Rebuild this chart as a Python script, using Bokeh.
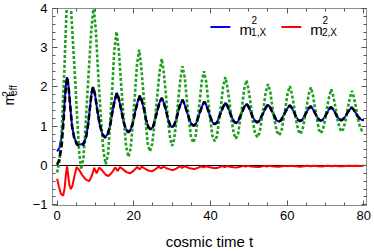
from bokeh.plotting import figure
from bokeh.layouts import row
from bokeh.models import Range1d, LinearAxis, FixedTicker, Span, Label, Arrow
from bokeh.embed import file_html
from bokeh.resources import INLINE
import math

# ---- data ----
blue_t = [0, 0.6, 1.2, 1.7, 2.2, 2.6, 3.0, 3.4, 3.9, 4.5, 5.2, 6.0, 6.8, 7.5, 8.1, 8.6, 9.0, 9.4,
          9.9, 10.5, 11.1, 11.8, 12.5, 13.2, 13.8, 14.4, 15.0, 15.6,
          16.1, 16.7, 17.3, 17.9, 18.6, 19.2, 19.8, 20.4, 21.0, 21.6,
          22.1, 22.7, 23.2, 23.8, 24.4, 25.0, 25.5, 26.1, 26.7, 27.3,
          27.8, 28.4, 28.9, 29.5, 30.0, 30.5, 31.1, 31.6, 32.2, 32.7,
          33.2, 33.8, 34.4, 35.0, 35.6, 36.2, 36.7, 37.3, 37.9, 38.4,
          38.9, 39.5, 40.0, 40.6, 41.1, 41.7, 42.2, 42.8, 43.4, 43.9,
          44.4, 45.0, 45.5, 46.1, 46.6, 47.2, 47.7, 48.3, 48.8, 49.4,
          49.9, 50.5, 51.0, 51.6, 52.2, 52.8, 53.3, 53.9, 54.4, 55.0,
          55.5, 56.1, 56.7, 57.2, 57.8, 58.4, 58.9, 59.5, 60.1, 60.7,
          61.2, 61.8, 62.3, 62.9, 63.4, 63.9, 64.5, 65.0, 65.6, 66.1,
          66.6, 67.2, 67.7, 68.3, 68.8, 69.3, 69.9, 70.4, 70.9, 71.4,
          71.9, 72.5, 73.0, 73.6, 74.1, 74.6, 75.2, 75.7, 76.3, 76.8,
          77.3, 77.9, 78.4, 79.0, 79.5, 80.0]
blue_y = [0.36, 0.45, 0.74, 1.25, 1.95, 2.25, 2.0, 1.54, 1.0, 0.7, 0.56, 0.53, 0.56, 0.7, 1.05, 1.5, 1.85, 2.0,
          1.8, 1.4, 1.05, 0.8, 0.72, 0.8, 1.0, 1.35, 1.65, 1.85,
          1.7, 1.43, 1.13, 0.93, 0.85, 0.92, 1.1, 1.38, 1.62, 1.78,
          1.65, 1.42, 1.17, 0.98, 0.92, 0.98, 1.15, 1.38, 1.6, 1.72,
          1.61, 1.41, 1.19, 1.02, 0.97, 1.02, 1.18, 1.39, 1.57, 1.67,
          1.57, 1.39, 1.2, 1.06, 1.01, 1.06, 1.2, 1.37, 1.53, 1.63,
          1.54, 1.38, 1.22, 1.09, 1.05, 1.09, 1.22, 1.37, 1.51, 1.60,
          1.52, 1.38, 1.24, 1.12, 1.08, 1.12, 1.24, 1.37, 1.49, 1.57,
          1.5, 1.37, 1.24, 1.14, 1.10, 1.14, 1.25, 1.36, 1.47, 1.55,
          1.49, 1.37, 1.25, 1.15, 1.12, 1.15, 1.25, 1.36, 1.46, 1.53,
          1.47, 1.36, 1.25, 1.16, 1.13, 1.16, 1.25, 1.35, 1.45, 1.51,
          1.45, 1.35, 1.25, 1.17, 1.14, 1.17, 1.25, 1.34, 1.43, 1.49,
          1.44, 1.35, 1.25, 1.18, 1.15, 1.18, 1.25, 1.34, 1.42, 1.48,
          1.43, 1.34, 1.25, 1.19, 1.16, 1.16]

black_t = blue_t
black_y = [0.02, 0.15, 0.53, 1.15, 1.9, 2.25, 2.0, 1.54, 1.0, 0.68, 0.53, 0.51, 0.53, 0.68, 1.05, 1.5, 1.85, 2.0,
           1.8, 1.4, 1.05, 0.8, 0.71, 0.8, 1.0, 1.35, 1.65, 1.85,
           1.7, 1.43, 1.13, 0.93, 0.84, 0.92, 1.1, 1.38, 1.62, 1.78,
           1.65, 1.42, 1.17, 0.98, 0.92, 0.98, 1.15, 1.38, 1.6, 1.72,
           1.61, 1.41, 1.19, 1.02, 0.97, 1.02, 1.18, 1.39, 1.57, 1.67,
           1.57, 1.39, 1.2, 1.06, 1.01, 1.06, 1.2, 1.37, 1.53, 1.63,
           1.54, 1.38, 1.22, 1.09, 1.05, 1.09, 1.22, 1.37, 1.51, 1.60,
           1.52, 1.38, 1.24, 1.12, 1.08, 1.12, 1.24, 1.37, 1.49, 1.57,
           1.5, 1.37, 1.24, 1.14, 1.10, 1.14, 1.25, 1.36, 1.47, 1.55,
           1.49, 1.37, 1.25, 1.15, 1.12, 1.15, 1.25, 1.36, 1.46, 1.53,
           1.47, 1.36, 1.25, 1.16, 1.13, 1.16, 1.25, 1.35, 1.45, 1.51,
           1.45, 1.35, 1.25, 1.17, 1.14, 1.17, 1.25, 1.34, 1.43, 1.49,
           1.44, 1.35, 1.25, 1.18, 1.15, 1.18, 1.25, 1.34, 1.42, 1.48,
           1.43, 1.34, 1.25, 1.19, 1.16, 1.16]

green_t = [0, 0.6, 1.2, 1.8, 2.4, 2.9, 3.5, 4.1, 4.7, 5.3, 5.8, 6.3, 6.9, 7.5, 8.2, 8.9, 9.5,
           10.1, 10.7, 11.4, 12.1, 12.7, 13.3, 13.8, 14.4, 14.9, 15.5,
           16.1, 16.7, 17.4, 18.0, 18.6, 19.2, 19.7, 20.3, 20.8, 21.4,
           21.9, 22.5, 23.1, 23.6, 24.2, 24.8, 25.4, 26.1, 26.7, 27.3,
           27.8, 28.4, 28.9, 29.5, 30.0, 30.5, 31.1, 31.6, 32.2, 32.7,
           33.3, 33.8, 34.4, 34.9, 35.5, 36.1, 36.6, 37.2, 37.7, 38.3,
           38.9, 39.4, 40.0, 40.5, 41.1, 41.7, 42.2, 42.8, 43.3, 43.9,
           44.4, 45.0, 45.5, 46.1, 46.6, 47.2, 47.7, 48.3, 48.8, 49.4,
           49.9, 50.5, 51.0, 51.6, 52.2, 52.8, 53.3, 53.9, 54.4, 55.0,
           55.6, 56.1, 56.7, 57.3, 57.9, 58.5, 59.0, 59.6, 60.1, 60.7,
           61.2, 61.8, 62.3, 62.9, 63.4, 64.0, 64.5, 65.1, 65.6, 66.2,
           66.7, 67.2, 67.8, 68.3, 68.8, 69.3, 69.9, 70.4, 71.0, 71.5,
           72.0, 72.6, 73.1, 73.7, 74.2, 74.7, 75.3, 75.8, 76.4, 76.9,
           77.4, 78.0, 78.5, 79.1, 79.6, 80.0]
green_y = [-0.18, 0.1, 0.9, 2.2, 3.8, 4.8, 4.2, 3.2, 2.2, 1.1, 0.3, -0.1, 0.23, 1.15, 2.31, 3.43, 4.05,
           3.45, 2.36, 1.24, 0.35, 0.03, 0.3, 1.04, 1.99, 2.9, 3.41,
           2.93, 2.07, 1.18, 0.48, 0.22, 0.44, 1.04, 1.8, 2.54, 2.95,
           2.56, 1.86, 1.14, 0.57, 0.36, 0.55, 1.07, 1.73, 2.37, 2.72,
           2.39, 1.79, 1.17, 0.68, 0.5, 0.66, 1.11, 1.68, 2.23, 2.53,
           2.24, 1.71, 1.17, 0.74, 0.58, 0.73, 1.13, 1.64, 2.13, 2.40,
           2.13, 1.65, 1.15, 0.76, 0.62, 0.75, 1.11, 1.57, 2.01, 2.25,
           2.01, 1.59, 1.15, 0.81, 0.68, 0.80, 1.13, 1.54, 1.95, 2.17,
           1.95, 1.56, 1.15, 0.84, 0.72, 0.83, 1.13, 1.50, 1.87, 2.07,
           1.88, 1.52, 1.16, 0.87, 0.77, 0.87, 1.15, 1.50, 1.83, 2.02,
           1.84, 1.51, 1.17, 0.9, 0.8, 0.9, 1.16, 1.49, 1.81, 1.99,
           1.81, 1.5, 1.17, 0.91, 0.82, 0.91, 1.16, 1.47, 1.77, 1.94,
           1.78, 1.49, 1.18, 0.95, 0.86, 0.94, 1.17, 1.46, 1.74, 1.90,
           1.74, 1.46, 1.17, 0.95, 0.88, 0.89]

red_t = [0, 0.5, 1.0, 1.6, 2.0, 2.3, 2.6, 2.9, 3.2, 3.6, 4.0, 4.5, 5.1, 5.8, 6.6, 7.5, 8.4, 9.1, 9.7, 10.3,
         11.0, 11.8, 12.6, 13.4, 14.3, 15.2, 15.8, 16.4, 17.2, 18.1, 19.0, 20.0, 20.9, 21.5, 22.1, 22.9,
         23.8, 24.7, 25.6, 26.5, 27.1, 27.7, 28.5, 29.4, 30.2, 31.1, 32.0, 32.6, 33.2, 34.0, 34.9, 35.8,
         36.7, 37.6, 38.2, 38.8, 39.6, 40.5, 41.3, 42.2, 43.1, 43.7, 44.3, 45.1, 46.0, 46.8, 47.7, 48.6,
         49.2, 49.8, 50.6, 51.5, 52.3, 53.2, 54.1, 54.7, 55.3, 56.5, 57.9, 59.6, 60.2, 60.8, 62.2, 63.5,
         65.2, 66.2, 67.0, 68.0, 69.0, 70.6, 71.6, 72.4, 73.4, 74.5, 76.1, 77.0, 77.8, 78.9, 80.0]
red_y = [-0.34, -0.55, -0.72, -0.77, -0.55, -0.22, -0.02, -0.25, -0.5, -0.6, -0.52, -0.28, -0.04, -0.12,
         -0.25, -0.36, -0.40, -0.25, -0.06, -0.2, -0.05, -0.13, -0.23, -0.27, -0.18, -0.05, -0.14, -0.04,
         -0.1, -0.17, -0.2, -0.13, -0.04, -0.1, -0.03, -0.08, -0.13, -0.15, -0.1, -0.03, -0.08, -0.03,
         -0.07, -0.1, -0.12, -0.08, -0.02, -0.06, -0.02, -0.05, -0.08, -0.09, -0.06, -0.02, -0.05, -0.02,
         -0.04, -0.06, -0.07, -0.05, -0.015, -0.04, -0.015, -0.03, -0.045, -0.05, -0.035, -0.01, -0.03,
         -0.01, -0.025, -0.035, -0.04, -0.03, -0.01, -0.025, -0.01, -0.025, -0.035, -0.01, -0.02, -0.01,
         -0.02, -0.03, -0.01, -0.02, -0.01, -0.02, -0.025, -0.01, -0.02, -0.01, -0.02, -0.02, -0.01,
         -0.015, -0.01, -0.015, -0.01]

x_major = [0, 20, 40, 60, 80]
x_minor = [0, 5, 10, 15, 20, 25, 30, 35, 40, 45, 50, 55, 60, 65, 70, 75, 80]
y_major = [-1, 0, 1, 2, 3, 4]
y_minor = [-1, -0.8, -0.6, -0.4, -0.2, 0, 0.2, 0.4, 0.6, 0.8, 1, 1.2, 1.4, 1.6, 1.8, 2, 2.2, 2.4,
           2.6, 2.8, 3, 3.2, 3.4, 3.6, 3.8, 4]
x_label = "cosmic time t"
legend_names = ["1,X", "2,X"]
legend_colors = ["#0000ff", "#ff0000"]

FONT = "Liberation Sans"
FRAME = "#8c8c8c"
TICK = "#555555"
LAB_W = 24

# ---- narrow strip holding the rotated y-axis title m^2_eff ----
lab = figure(width=LAB_W, height=252, output_backend="svg", toolbar_location=None,
             x_range=Range1d(0, LAB_W), y_range=Range1d(0, 252),
             x_axis_location=None, y_axis_location=None,
             min_border_left=0, min_border_right=0, min_border_top=0, min_border_bottom=0)
lab.outline_line_color = None
lab.xgrid.visible = False
lab.ygrid.visible = False
lab.add_layout(Label(x=8.5, y=128, text="m", angle=math.pi / 2,
                     text_font=FONT, text_font_size="14px", text_color="black",
                     text_baseline="alphabetic", text_align="left"))
lab.add_layout(Label(x=5, y=139, text="2", angle=math.pi / 2,
                     text_font=FONT, text_font_size="10px", text_color="black",
                     text_baseline="alphabetic", text_align="left"))
lab.add_layout(Label(x=13, y=140, text="eff", angle=math.pi / 2,
                     text_font=FONT, text_font_size="10px", text_color="black",
                     text_baseline="alphabetic", text_align="left"))

# ---- main plot ----
p = figure(width=374 - LAB_W, height=252, output_backend="svg", toolbar_location=None,
           x_range=Range1d(-1.2, 80.7), y_range=Range1d(-1.02, 4.0),
           x_axis_location=None, y_axis_location=None,
           min_border_left=52 - LAB_W, min_border_right=8, min_border_top=8, min_border_bottom=45)
p.outline_line_color = None
p.xgrid.visible = False
p.ygrid.visible = False
p.background_fill_color = "white"
p.border_fill_color = "white"


def labelled_axis(major, minor):
    ax = LinearAxis(ticker=FixedTicker(ticks=major, minor_ticks=minor))
    ax.axis_line_color = FRAME
    ax.major_tick_line_color = TICK
    ax.minor_tick_line_color = TICK
    ax.major_tick_in = 5
    ax.major_tick_out = 0
    ax.minor_tick_in = 3
    ax.minor_tick_out = 0
    ax.major_label_text_font = FONT
    ax.major_label_text_color = "black"
    ax.major_label_text_font_size = "13px"
    ax.major_label_standoff = 5
    return ax


def bare_axis(ticks, length, line):
    # mirrored frame side: tick marks only, no labels
    ax = LinearAxis(ticker=FixedTicker(ticks=[], minor_ticks=ticks))
    ax.axis_line_color = FRAME if line else None
    ax.major_tick_line_color = None
    ax.minor_tick_line_color = TICK
    ax.minor_tick_in = length
    ax.minor_tick_out = 0
    ax.major_label_standoff = 0
    return ax


xb = labelled_axis(x_major, x_minor)
xb.axis_label = x_label
xb.axis_label_text_font = FONT
xb.axis_label_text_font_size = "15px"
xb.axis_label_text_font_style = "normal"
xb.axis_label_text_color = "black"
xb.axis_label_standoff = 10
p.add_layout(xb, "below")
yl = labelled_axis(y_major, y_minor)
yl.major_label_overrides = {-1: "\u22121"}
p.add_layout(yl, "left")
p.add_layout(bare_axis(x_minor, 3, True), "above")
p.add_layout(bare_axis(x_major, 5, False), "above")
p.add_layout(bare_axis(y_minor, 3, True), "right")
p.add_layout(bare_axis(y_major, 5, False), "right")

zero = Span(location=0, dimension="width", line_color="black", line_width=1, level="underlay")
p.add_layout(zero)

p.line(blue_t, blue_y, line_color=legend_colors[0], line_width=2)
p.line(red_t, red_y, line_color=legend_colors[1], line_width=2)
p.line(green_t, green_y, line_color="#1f9e1f", line_width=2.6, line_dash="3 2")
p.line(black_t, black_y, line_color="black", line_width=2.6, line_dash="6 3")

# ---- legend (top right), placed in data units ----
def legend_entry(t0, color, sub):
    p.add_layout(Arrow(start=None, end=None, x_start=t0, y_start=3.53, x_end=t0 + 5.2, y_end=3.53,
                       line_color=color, line_width=2))
    p.add_layout(Label(x=t0 + 7.55, y=3.47, text="m",
                       text_font=FONT, text_font_size="15px", text_color="black",
                       text_baseline="alphabetic", text_align="left"))
    p.add_layout(Label(x=t0 + 10.7, y=3.70, text="2",
                       text_font=FONT, text_font_size="10px", text_color="black",
                       text_baseline="alphabetic", text_align="left"))
    p.add_layout(Label(x=t0 + 10.6, y=3.39, text=sub,
                       text_font=FONT, text_font_size="10px", text_color="black",
                       text_baseline="alphabetic", text_align="left"))


legend_entry(40.0, legend_colors[0], legend_names[0])
legend_entry(58.5, legend_colors[1], legend_names[1])

open("out.html", "w").write(file_html(row(lab, p), INLINE))
